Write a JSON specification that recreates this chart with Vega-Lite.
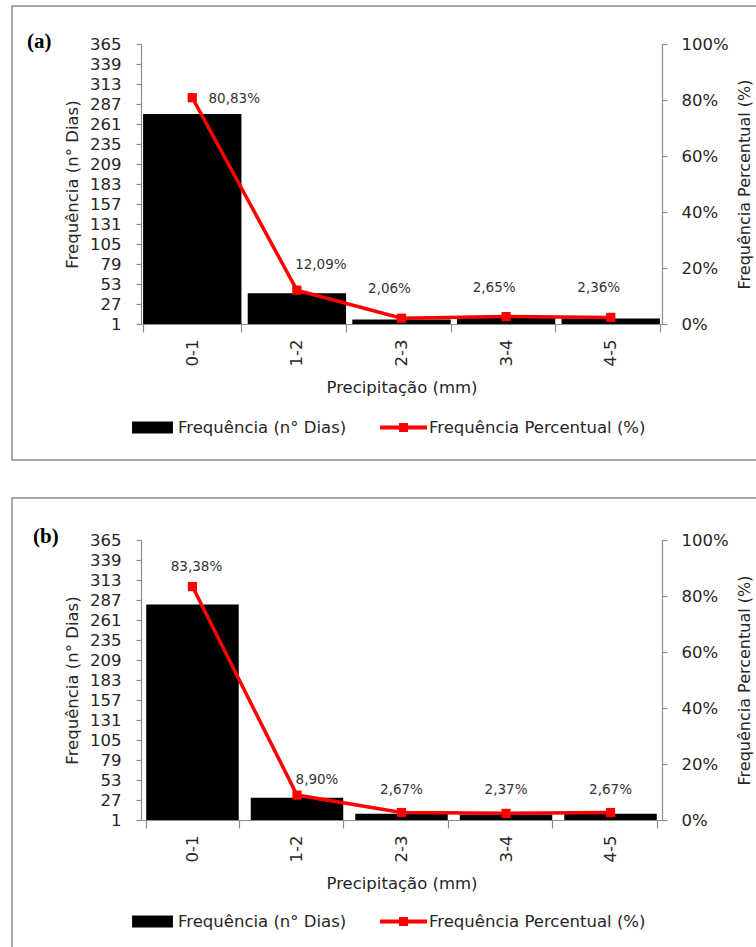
{
  "$schema": "https://vega.github.io/schema/vega-lite/v6.json",
  "padding": {"left": 3, "top": 5, "right": -3, "bottom": -4},
  "background": "white",
  "datasets": {
    "a": [
      {"faixa": "0-1", "dias": 274, "pct": 0.8083},
      {"faixa": "1-2", "dias": 41, "pct": 0.1209},
      {"faixa": "2-3", "dias": 7, "pct": 0.0206},
      {"faixa": "3-4", "dias": 9, "pct": 0.0265},
      {"faixa": "4-5", "dias": 8, "pct": 0.0236}
    ],
    "b": [
      {"faixa": "0-1", "dias": 281, "pct": 0.8338},
      {"faixa": "1-2", "dias": 30, "pct": 0.089},
      {"faixa": "2-3", "dias": 9, "pct": 0.0267},
      {"faixa": "3-4", "dias": 8, "pct": 0.0237},
      {"faixa": "4-5", "dias": 9, "pct": 0.0267}
    ]
  },
  "spacing": 36,
  "vconcat": [
    {
      "width": 746,
      "height": 454,
      "data": {"name": "a"},
      "title": {"text": "(a)", "anchor": "start", "frame": "group", "offset": -63, "dx": 15, "baseline": "alphabetic", "font": "Liberation Serif", "fontSize": 21, "fontWeight": "bold", "color": "#000000"},
      "encoding": {
        "x": {
          "field": "faixa", "type": "nominal", "sort": null,
          "scale": {"range": [129, 650], "paddingInner": 0.06, "paddingOuter": 0.02},
          "axis": {"title": "Precipitação (mm)", "labelAngle": -90, "labelAlign": "right", "labelBaseline": "middle", "tickBand": "extent", "tickSize": 8, "labelPadding": 7, "titlePadding": 14, "offset": -136}
        }
      },
      "layer": [
        {
          "mark": {"type": "bar"},
          "encoding": {
            "y": {"field": "dias", "type": "quantitative", "scale": {"domain": [1, 365], "range": [318, 38]},
                  "axis": {"title": "Frequência (n° Dias)", "values": [1, 27, 53, 79, 105, 131, 157, 183, 209, 235, 261, 287, 313, 339, 365], "offset": -129, "tickSize": 5, "labelPadding": 15, "titlePadding": 9}},
            "y2": {"datum": 1},
            "color": {"datum": "Frequência (n° Dias)",
              "scale": {"domain": ["Frequência (n° Dias)", "Frequência Percentual (%)"], "range": ["#000000", "#ff0000"]},
              "legend": {"orient": "none", "legendX": 117, "legendY": 398, "direction": "horizontal", "title": null, "padding": 0, "symbolSize": 2209, "columnPadding": 33, "labelOffset": 2, "labelLimit": 400,
                "encode": {"symbols": {"update": {
                  "shape": {"signal": "datum.index === 0 ? 'M-0.87,-0.255H0.87V0.255H-0.87Z' : 'M-1,-0.085H-0.19V-0.19H0.19V-0.085H1V0.085H0.19V0.19H-0.19V0.085H-1Z'"},
                  "fill": {"signal": "datum.index === 0 ? '#000000' : '#ff0000'"},
                  "stroke": {"value": "transparent"},
                  "strokeWidth": {"value": 0},
                  "opacity": {"value": 1}
                }}}}}
          }
        },
        {
          "encoding": {
            "y": {"field": "pct", "type": "quantitative", "scale": {"domain": [0, 1], "range": [318, 38]},
                  "axis": {"orient": "right", "title": "Frequência Percentual (%)", "format": ".0%", "values": [0, 0.2, 0.4, 0.6, 0.8, 1], "offset": -96, "tickSize": 5, "labelPadding": 14, "titlePadding": 8, "titleFontSize": 16, "titleAngle": 270, "titleBaseline": "top"}}
          },
          "layer": [
            {
              "mark": {"type": "line", "strokeWidth": 3.5, "point": {"shape": "square", "size": 85, "filled": true}},
              "encoding": {"color": {"datum": "Frequência Percentual (%)"}}
            },
            {
              "transform": [{"filter": "datum.faixa === '0-1'"}],
              "mark": {"type": "text", "fontSize": 13.5, "color": "#333333", "baseline": "middle", "dx": 42, "dy": 1},
              "encoding": {"text": {"field": "pct", "type": "quantitative", "format": ".2%"}}
            },
            {
              "transform": [{"filter": "datum.faixa === '1-2'"}],
              "mark": {"type": "text", "fontSize": 13.5, "color": "#333333", "baseline": "middle", "dx": 24, "dy": -25},
              "encoding": {"text": {"field": "pct", "type": "quantitative", "format": ".2%"}}
            },
            {
              "transform": [{"filter": "datum.faixa !== '0-1' && datum.faixa !== '1-2'"}],
              "mark": {"type": "text", "fontSize": 13.5, "color": "#333333", "baseline": "middle", "dx": -12, "dy": -29},
              "encoding": {"text": {"field": "pct", "type": "quantitative", "format": ".2%"}}
            }
          ]
        }
      ],
      "resolve": {"scale": {"y": "independent"}}
    },
    {
      "width": 746,
      "height": 452,
      "data": {"name": "b"},
      "title": {"text": "(b)", "anchor": "start", "frame": "group", "offset": -66, "dx": 21, "baseline": "alphabetic", "font": "Liberation Serif", "fontSize": 21, "fontWeight": "bold", "color": "#000000"},
      "encoding": {
        "x": {
          "field": "faixa", "type": "nominal", "sort": null,
          "scale": {"range": [129, 650], "paddingInner": 0.115, "paddingOuter": 0.05},
          "axis": {"title": "Precipitação (mm)", "labelAngle": -90, "labelAlign": "right", "labelBaseline": "middle", "tickBand": "extent", "tickSize": 8, "labelPadding": 7, "titlePadding": 14, "offset": -130}
        }
      },
      "layer": [
        {
          "mark": {"type": "bar"},
          "encoding": {
            "y": {"field": "dias", "type": "quantitative", "scale": {"domain": [1, 365], "range": [322, 42]},
                  "axis": {"title": "Frequência (n° Dias)", "values": [1, 27, 53, 79, 105, 131, 157, 183, 209, 235, 261, 287, 313, 339, 365], "offset": -129, "tickSize": 5, "labelPadding": 15, "titlePadding": 9}},
            "y2": {"datum": 1},
            "color": {"datum": "Frequência (n° Dias)",
              "scale": {"domain": ["Frequência (n° Dias)", "Frequência Percentual (%)"], "range": ["#000000", "#ff0000"]},
              "legend": {"orient": "none", "legendX": 117, "legendY": 400, "direction": "horizontal", "title": null, "padding": 0, "symbolSize": 2209, "columnPadding": 33, "labelOffset": 2, "labelLimit": 400,
                "encode": {"symbols": {"update": {
                  "shape": {"signal": "datum.index === 0 ? 'M-0.87,-0.255H0.87V0.255H-0.87Z' : 'M-1,-0.085H-0.19V-0.19H0.19V-0.085H1V0.085H0.19V0.19H-0.19V0.085H-1Z'"},
                  "fill": {"signal": "datum.index === 0 ? '#000000' : '#ff0000'"},
                  "stroke": {"value": "transparent"},
                  "strokeWidth": {"value": 0},
                  "opacity": {"value": 1}
                }}}}}
          }
        },
        {
          "encoding": {
            "y": {"field": "pct", "type": "quantitative", "scale": {"domain": [0, 1], "range": [322, 42]},
                  "axis": {"orient": "right", "title": "Frequência Percentual (%)", "format": ".0%", "values": [0, 0.2, 0.4, 0.6, 0.8, 1], "offset": -96, "tickSize": 5, "labelPadding": 14, "titlePadding": 8, "titleFontSize": 16, "titleAngle": 270, "titleBaseline": "top"}}
          },
          "layer": [
            {
              "mark": {"type": "line", "strokeWidth": 3.5, "point": {"shape": "square", "size": 85, "filled": true}},
              "encoding": {"color": {"datum": "Frequência Percentual (%)"}}
            },
            {
              "transform": [{"filter": "datum.faixa === '0-1'"}],
              "mark": {"type": "text", "fontSize": 13.5, "color": "#333333", "baseline": "middle", "dx": 4, "dy": -20},
              "encoding": {"text": {"field": "pct", "type": "quantitative", "format": ".2%"}}
            },
            {
              "transform": [{"filter": "datum.faixa === '1-2'"}],
              "mark": {"type": "text", "fontSize": 13.5, "color": "#333333", "baseline": "middle", "dx": 20, "dy": -15},
              "encoding": {"text": {"field": "pct", "type": "quantitative", "format": ".2%"}}
            },
            {
              "transform": [{"filter": "datum.faixa !== '0-1' && datum.faixa !== '1-2'"}],
              "mark": {"type": "text", "fontSize": 13.5, "color": "#333333", "baseline": "middle", "dx": 0, "dy": -23},
              "encoding": {"text": {"field": "pct", "type": "quantitative", "format": ".2%"}}
            }
          ]
        }
      ],
      "resolve": {"scale": {"y": "independent"}}
    }
  ],
  "resolve": {"scale": {"color": "independent"}, "legend": {"color": "independent"}},
  "config": {
    "view": {"stroke": "#8c8c8c", "strokeWidth": 1.5},
    "locale": {"number": {"decimal": ",", "thousands": ".", "grouping": [3], "currency": ["R$", ""]}},
    "axis": {"domainColor": "#8c8c8c", "tickColor": "#8c8c8c", "domainWidth": 1.2, "tickWidth": 1.2, "grid": false,
             "labelFont": "DejaVu Sans", "labelFontSize": 16.5, "labelColor": "#262626",
             "titleFont": "DejaVu Sans", "titleFontSize": 16.5, "titleFontWeight": "normal", "titleColor": "#262626"},
    "legend": {"labelFont": "DejaVu Sans", "labelFontSize": 16.5, "labelColor": "#262626"},
    "text": {"font": "DejaVu Sans"}
  }
}
